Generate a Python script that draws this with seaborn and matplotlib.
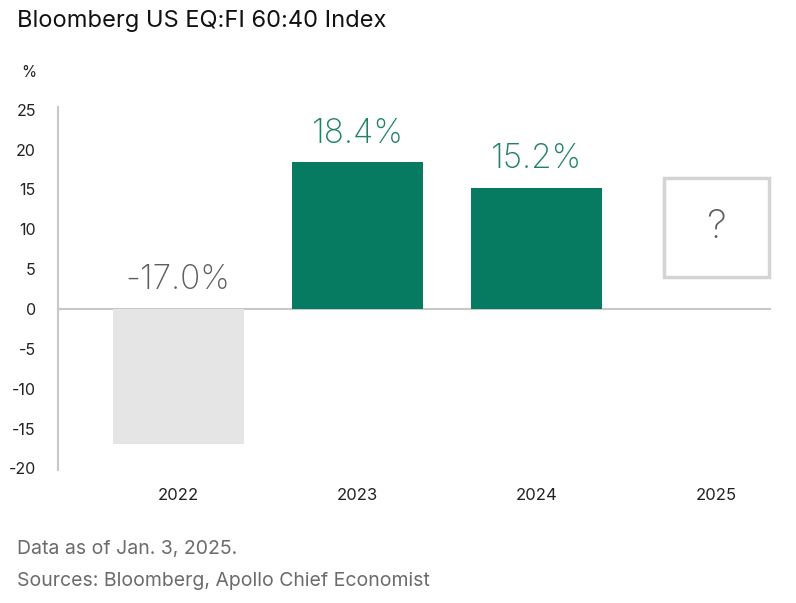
import matplotlib
matplotlib.use("Agg")
import matplotlib.pyplot as plt
import matplotlib.patches as mpatches
import numpy as np
import pandas as pd
import seaborn as sns

years = ["2022", "2023", "2024", "2025"]
returns = [-17.0, 18.4, 15.2]
bar_labels = ["-17.0%", "18.4%", "15.2%"]
bar_colors = ["#E5E5E5", "#077A62", "#077A62"]
label_colors = ["#5E5E5E", "#1F8267", "#1F8267"]
y_ticks = [25, 20, 15, 10, 5, 0, -5, -10, -15, -20]

sns.set_style("white")
plt.rcParams["font.family"] = ["Inter", "DejaVu Sans"]
plt.rcParams["axes.unicode_minus"] = False

df = pd.DataFrame({"year": years[:3], "ret": returns})

fig = plt.figure(figsize=(7.96, 6.03), dpi=100)
ax = fig.add_axes([0.0729, 0.2206, 0.8957, 0.6014])

sns.barplot(data=df, x="year", y="ret", order=years, hue="year",
            palette=dict(zip(years[:3], bar_colors)), legend=False,
            width=0.73, saturation=1, linewidth=0, ax=ax)

# labels above bars (or above zero for the negative year)
for i, (v, lab, c) in enumerate(zip(returns, bar_labels, label_colors)):
    ax.annotate(lab, (i, max(v, 0)), xytext=(0, 9), textcoords="offset points",
                ha="center", va="bottom", fontsize=24, color=c, fontweight="light")

# placeholder box for 2025
ax.add_patch(mpatches.Rectangle((3 - 0.295, 4.0), 0.59, 12.4, fill=False,
                                edgecolor="#D4D4D4", linewidth=2.5, clip_on=False))
ax.text(3, 10.2, "?", ha="center", va="center", fontsize=29, color="#5E5E5E",
        fontweight="light")

ax.axhline(0, color="#C8C8C8", linewidth=1.5, zorder=0)
ax.set_ylim(-20.2, 25.3)
ax.set_xlim(-0.669, 3.304)
ax.set_yticks(y_ticks)
ax.set_xlabel("")
ax.set_ylabel("")
ax.tick_params(axis="y", length=0, pad=16, labelsize=11.5, labelcolor="#222222")
ax.tick_params(axis="x", length=0, pad=13, labelsize=12, labelcolor="#222222")
for s in ["top", "right", "bottom"]:
    ax.spines[s].set_visible(False)
ax.spines["left"].set_color("#C8C8C8")
ax.spines["left"].set_linewidth(1.5)

fig.text(0.021, 0.965, "Bloomberg US EQ:FI 60:40 Index", fontsize=17,
         color="#111111", va="center", ha="left")
fig.text(0.027, 0.88, "%", fontsize=11, color="#222222", va="center", ha="left")
fig.text(0.021, 0.089, "Data as of Jan. 3, 2025.", fontsize=14,
         color="#6B6B6B", va="center", ha="left")
fig.text(0.021, 0.037, "Sources: Bloomberg, Apollo Chief Economist", fontsize=14,
         color="#6B6B6B", va="center", ha="left")

fig.savefig("out.png", dpi=100)
